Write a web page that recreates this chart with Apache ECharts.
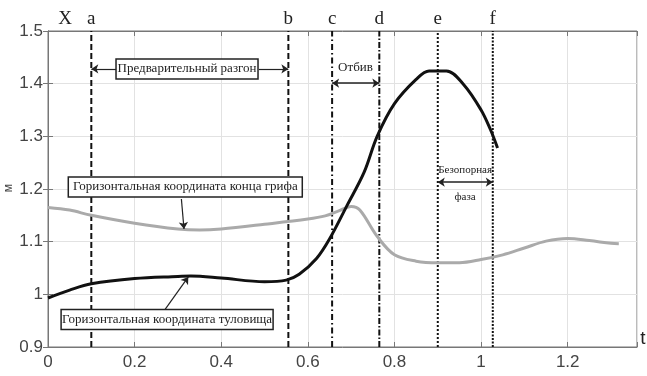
<!DOCTYPE html>
<html><head><meta charset="utf-8">
<script src="https://cdn.jsdelivr.net/npm/echarts@6/dist/echarts.min.js"></script>
<style>html,body{margin:0;padding:0;background:#fff}#c{width:647px;height:376px}</style>
</head><body><div id="c"></div>
<script>
// Torso horizontal coordinate (black)
const torsoT = [0,0.05,0.1,0.2,0.3,0.33,0.4,0.5,0.55,0.58,0.62,0.65,0.69,0.73,0.76,0.8,0.85,0.88,0.92,0.96,1.0,1.022,1.038];
const torsoX = [0.993,1.008,1.020,1.030,1.034,1.035,1.031,1.024,1.027,1.038,1.068,1.105,1.168,1.232,1.300,1.362,1.408,1.424,1.424,1.398,1.350,1.312,1.278];
// Grip end horizontal coordinate (gray)
const gripT = [0,0.05,0.1,0.2,0.3,0.35,0.4,0.5,0.6,0.64,0.67,0.7,0.72,0.76,0.8,0.85,0.9,0.95,1.0,1.05,1.1,1.15,1.2,1.25,1.3,1.318];
const gripX = [1.165,1.160,1.150,1.135,1.124,1.122,1.124,1.133,1.143,1.149,1.158,1.167,1.160,1.110,1.075,1.063,1.060,1.060,1.066,1.075,1.088,1.101,1.106,1.102,1.097,1.096];
// Phase boundaries
const phaseNames = ['a','b','c','d','e','f'];
const phaseTimes = [0.1,0.555,0.656,0.765,0.9,1.027];
const phaseDash = [[6,3],[6,3],[6,3,1.5,3],[6,2,1.5,2],[2,2],[2,1.5]];
const yTicks = ['0.9','1','1.1','1.2','1.3','1.4','1.5'];
const xTicks = ['0','0.2','0.4','0.6','0.8','1','1.2'];

const chart = echarts.init(document.getElementById('c'));
const serif = '"Liberation Serif", "DejaVu Serif", serif';
const sans = '"Liberation Sans", Arial, sans-serif';

const series = [
  {type:'line', data: gripT.map((t,i)=>[t,gripX[i]]), smooth:0.35, showSymbol:false,
   lineStyle:{color:'#aaaaaa', width:3}, z:3},
  {type:'line', data: torsoT.map((t,i)=>[t,torsoX[i]]), smooth:0.35, showSymbol:false,
   lineStyle:{color:'#111', width:3}, z:4}
];
phaseTimes.forEach((t,i)=>{
  series.push({type:'line', data:[[t,0.9],[t,1.5]], showSymbol:false, silent:true,
    lineStyle:{color:'#111', width:2, type: phaseDash[i]}, z:2});
});
// Arrow series (markLine in data coords)
series.push({type:'line', data:[], markLine:{silent:true, symbol:['none','arrow'], symbolSize:7,
  lineStyle:{color:'#222', width:1.2, type:'solid'}, label:{show:false},
  data:[
    [{coord:[0.158,1.428]},{coord:[0.1,1.428]}],
    [{coord:[0.487,1.428]},{coord:[0.555,1.428]}],
    [{coord:[0.308,1.181]},{coord:[0.314,1.124]}],
    [{coord:[0.27,0.971]},{coord:[0.324,1.033]}]
  ]}});
series.push({type:'line', data:[], markLine:{silent:true, symbol:['arrow','arrow'], symbolSize:7,
  lineStyle:{color:'#222', width:1.5, type:'solid'}, label:{show:false},
  data:[
    [{coord:[0.656,1.401]},{coord:[0.765,1.401]}],
    [{coord:[0.9,1.213]},{coord:[1.027,1.213]}]
  ]}});

chart.setOption({
  animation:false,
  grid:{left:48, right:10, top:31, bottom:29, show:true, borderColor:'#777', borderWidth:1,
    containLabel:false, outerBoundsMode:'none'},
  xAxis:[{type:'value', min:0, max:1.36, interval:0.2,
    axisLine:{show:true, lineStyle:{color:'#777'}},
    axisTick:{show:true, inside:true, length:5, lineStyle:{color:'#777'}},
    splitLine:{show:true, lineStyle:{color:'#e2e2e2'}},
    axisLabel:{color:'#444', fontSize:17, fontFamily:sans, margin:7,
      formatter:v=>{const s=xTicks.find(x=>Math.abs(parseFloat(x)-v)<1e-6);return s===undefined?'':s;}}},
    {type:'value', position:'top', min:0, max:1.36, interval:0.2,
    axisLine:{show:true, lineStyle:{color:'#777'}},
    axisTick:{show:true, inside:true, length:5, lineStyle:{color:'#777'}},
    axisLabel:{show:false}, splitLine:{show:false}}],
  yAxis:[{type:'value', min:0.9, max:1.5, interval:0.1,
    axisLine:{show:true, lineStyle:{color:'#777'}},
    axisTick:{show:true, inside:true, length:5, lineStyle:{color:'#777'}},
    splitLine:{show:true, lineStyle:{color:'#e2e2e2'}},
    axisLabel:{color:'#444', fontSize:17, fontFamily:sans, margin:5,
      formatter:v=>{const s=yTicks.find(x=>Math.abs(parseFloat(x)-v)<1e-6);return s===undefined?'':s;}}},
    {type:'value', position:'right', min:0.9, max:1.5, interval:0.1,
    axisLine:{show:true, lineStyle:{color:'#777'}},
    axisTick:{show:true, inside:true, length:5, lineStyle:{color:'#777'}},
    axisLabel:{show:false}, splitLine:{show:false}}],
  series: series
});

// Annotations positioned from data coordinates
const P = (t,y)=>chart.convertToPixel({gridIndex:0},[t,y]);
const g = [];
function txt(t,y,s,size,extra){
  const p=P(t,y);
  g.push({type:'text', x:p[0], y:p[1], z:20, style:Object.assign({text:s, fill:'#222', font:size+'px '+serif, textAlign:'center', textVerticalAlign:'middle'}, extra||{})});
}
function box(t,y,s,w){
  const p=P(t,y);
  g.push({type:'rect', z:19, shape:{x:p[0]-w/2, y:p[1]-10, width:w, height:20},
    style:{fill:'#fff', stroke:'#222', lineWidth:1.5}});
  g.push({type:'text', x:p[0], y:p[1], z:20, style:{text:s, fill:'#222', font:'13px '+serif, textAlign:'center', textVerticalAlign:'middle'}});
}
box(0.321,1.428,'Предварительный разгон',142);
box(0.317,1.204,'Горизонтальная координата конца грифа',234);
box(0.275,0.952,'Горизонтальная координата туловища',212);
txt(0.71,1.43,'Отбив',13);
txt(0.963,1.236,'Безопорная',11);
txt(0.963,1.185,'фаза',11);
// phase letters above the top border
const topY = P(0,1.5)[1];
phaseNames.forEach((n,i)=>{
  const p=P(phaseTimes[i],1.5);
  g.push({type:'text', x:p[0], y:topY-12, z:20, style:{text:n, fill:'#222', font:'19px '+serif, textAlign:'center', textVerticalAlign:'middle'}});
});
g.push({type:'text', x:P(0,1.5)[0]+17, y:topY-12, z:20, style:{text:'X', fill:'#222', font:'19px '+serif, textAlign:'center', textVerticalAlign:'middle'}});
const br = P(1.36,0.9);
g.push({type:'text', x:br[0]+6, y:br[1]-8, z:20, style:{text:'t', fill:'#222', font:'19px '+sans, textAlign:'center', textVerticalAlign:'middle'}});
// y-axis unit
const mid = P(0,1.2);
g.push({type:'text', x:9, y:mid[1]-1, rotation:Math.PI/2, z:20, style:{text:'м', fill:'#444', font:'12px '+sans, textAlign:'center', textVerticalAlign:'middle'}});
chart.setOption({graphic:g});
</script></body></html>
